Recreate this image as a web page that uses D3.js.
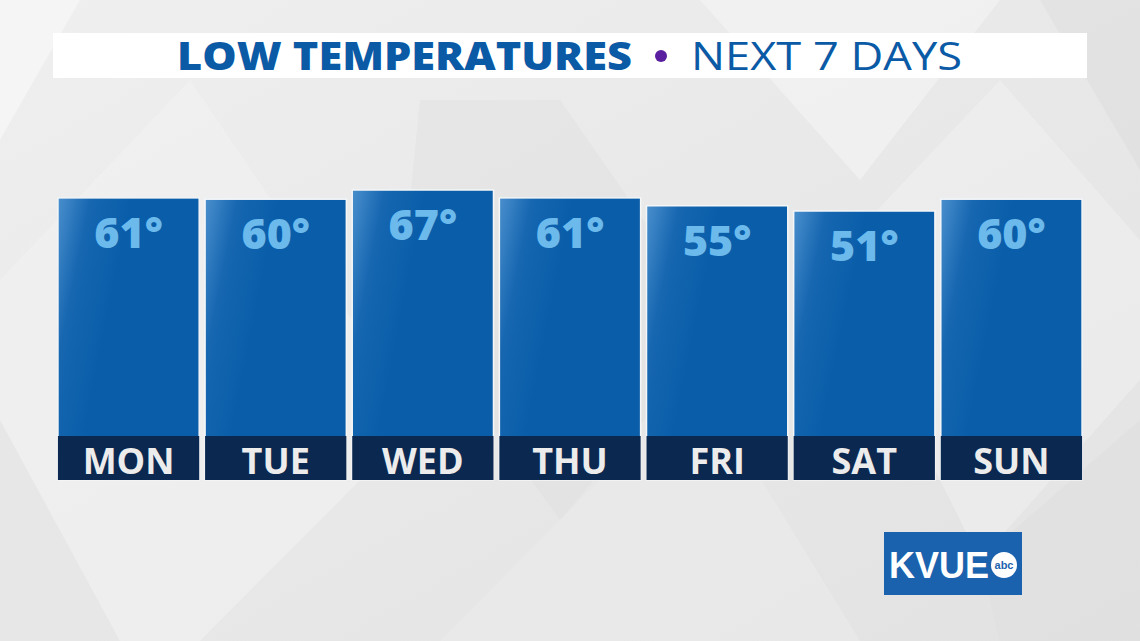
<!DOCTYPE html>
<html>
<head>
<meta charset="utf-8">
<script src="https://cdn.jsdelivr.net/npm/d3@7"></script>
<style>
  html, body { margin: 0; padding: 0; background: #e7e7e7; }
  svg { display: block; }
</style>
</head>
<body>
<svg id="chart" width="1140" height="641"></svg>
<script>
// ---- data ----
const days = ["MON", "TUE", "WED", "THU", "FRI", "SAT", "SUN"];
const lows = [61, 60, 67, 61, 55, 51, 60];
const titleBold = "LOW TEMPERATURES";
const titleLight = "NEXT 7 DAYS";
const logoText = "KVUE";

// ---- layout ----
const W = 1140, H = 641;
const svg = d3.select("#chart");
const defs = svg.append("defs");

// background
const bg = defs.append("linearGradient").attr("id", "bg").attr("x1", 0).attr("y1", 0).attr("x2", 1).attr("y2", 1);
bg.append("stop").attr("offset", 0).attr("stop-color", "#efefef");
bg.append("stop").attr("offset", 1).attr("stop-color", "#e2e2e2");
svg.append("rect").attr("width", W).attr("height", H).attr("fill", "url(#bg)");

const shapes = [
  {pts: [[0, 0], [80, 0], [0, 140]], f: "#f6f6f6", o: 0.8},
  {pts: [[0, 280], [190, 80], [420, 420], [200, 641], [0, 641]], f: "#f3f3f3", o: 0.55},
  {pts: [[420, 100], [560, 100], [720, 330], [560, 520], [400, 300]], f: "#dcdcdc", o: 0.35},
  {pts: [[700, 0], [1000, 0], [860, 180]], f: "#f5f5f5", o: 0.6},
  {pts: [[830, 260], [1000, 80], [1140, 240], [1140, 420], [980, 560]], f: "#f2f2f2", o: 0.5},
  {pts: [[560, 520], [700, 380], [860, 641], [440, 641]], f: "#ebebeb", o: 0.6},
  {pts: [[1040, 0], [1140, 0], [1140, 170]], f: "#dadada", o: 0.4},
  {pts: [[980, 560], [1140, 380], [1140, 641], [1000, 641]], f: "#dedede", o: 0.45},
  {pts: [[0, 420], [120, 641], [0, 641]], f: "#dcdcdc", o: 0.4}
];
svg.append("g").selectAll("polygon").data(shapes).join("polygon")
  .attr("points", d => d.pts.map(p => p.join(",")).join(" "))
  .attr("fill", d => d.f).attr("opacity", d => d.o);

// title bar
svg.append("rect").attr("x", 53).attr("y", 33).attr("width", 1034).attr("height", 45).attr("fill", "#ffffff");
const titleFont = "'Open Sans', Lato, sans-serif";
svg.append("text").attr("x", 177).attr("y", 70)
  .attr("textLength", 455).attr("lengthAdjust", "spacingAndGlyphs")
  .style("font-family", titleFont).style("font-size", "38px").style("font-weight", 800)
  .attr("fill", "#0b5aa6").text(titleBold);
svg.append("text").attr("x", 691).attr("y", 70)
  .attr("textLength", 271).attr("lengthAdjust", "spacingAndGlyphs")
  .style("font-family", titleFont).style("font-size", "38px").style("font-weight", 400)
  .attr("fill", "#0b5aa6").text(titleLight);
svg.append("circle").attr("cx", 661).attr("cy", 56).attr("r", 6).attr("fill", "#5a1f9e");

// scales
const x = d3.scaleBand().domain(days).range([55, 1085]).paddingInner(0.04).paddingOuter(0.02);
const y = d3.scaleLinear().domain([51, 67]).range([211, 190]);
const baseY = 480, bandH = 44;

// bar gradient (highlight at top-left)
const g1 = defs.append("linearGradient").attr("id", "barGrad")
  .attr("x1", 0).attr("y1", 0).attr("x2", 0.45).attr("y2", 0.18);
g1.append("stop").attr("offset", 0).attr("stop-color", "#4a8fcd");
g1.append("stop").attr("offset", 0.45).attr("stop-color", "#1666b0");
g1.append("stop").attr("offset", 1).attr("stop-color", "#0a5ea9");

const data = days.map((d, i) => ({day: d, v: lows[i]}));
const labelFont = "'Open Sans', Lato, sans-serif";

const bars = svg.append("g").selectAll("g").data(data).join("g");
bars.append("rect")
  .attr("x", d => x(d.day)).attr("y", d => y(d.v))
  .attr("width", x.bandwidth()).attr("height", d => baseY - y(d.v))
  .attr("fill", "url(#barGrad)")
  .attr("stroke", "#f4f6f8").attr("stroke-width", 1.5);
bars.append("rect")
  .attr("x", d => x(d.day)).attr("y", baseY - bandH)
  .attr("width", x.bandwidth()).attr("height", bandH)
  .attr("fill", "#0b2850");
bars.append("text")
  .attr("x", d => x(d.day) + x.bandwidth() / 2)
  .attr("y", d => y(d.v) + 50)
  .attr("text-anchor", "middle")
  .style("font-family", labelFont).style("font-weight", 800).style("font-size", "43px")
  .attr("fill", "#6cb9ec")
  .text(d => d.v + "\u00B0");
bars.append("text")
  .attr("x", d => x(d.day) + x.bandwidth() / 2)
  .attr("y", baseY - 6)
  .attr("text-anchor", "middle")
  .style("font-family", labelFont).style("font-weight", 700).style("font-size", "36px")
  .attr("fill", "#ececec")
  .text(d => d.day);

// logo
const logo = svg.append("g");
logo.append("rect").attr("x", 884).attr("y", 532).attr("width", 138).attr("height", 63).attr("fill", "#1b62ae");
logo.append("text").attr("x", 889).attr("y", 578)
  .style("font-family", "'Liberation Sans', Arial, sans-serif").style("font-weight", 700).style("font-size", "36px")
  .attr("textLength", 100).attr("lengthAdjust", "spacingAndGlyphs")
  .attr("fill", "#ffffff").text(logoText);
logo.append("circle").attr("cx", 1004).attr("cy", 565).attr("r", 13).attr("fill", "#ffffff");
logo.append("text").attr("x", 1004).attr("y", 569).attr("text-anchor", "middle")
  .style("font-family", "'Liberation Sans', Arial, sans-serif").style("font-weight", 700).style("font-size", "11px")
  .attr("fill", "#1b62ae").text("abc");
</script>
</body>
</html>
